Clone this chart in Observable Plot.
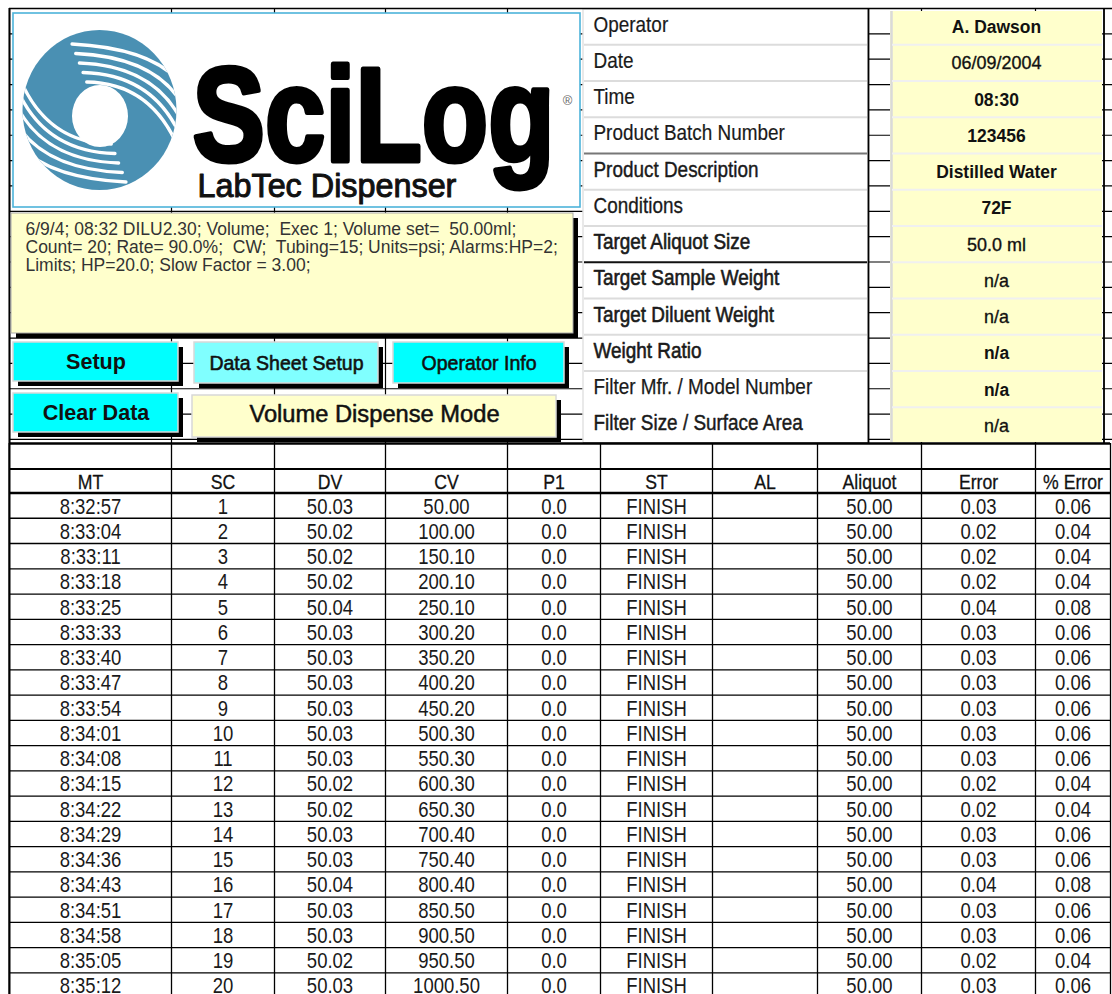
<!DOCTYPE html>
<html><head><meta charset="utf-8">
<script src="https://cdn.jsdelivr.net/npm/d3@7"></script>
<script src="https://cdn.jsdelivr.net/npm/@observablehq/plot@0.6"></script>
<style>
html,body{margin:0;padding:0;background:#fff;}
#chart svg{display:block;}
#chart text{white-space:pre;}
</style></head><body><div id="chart"></div>
<script>
// ---------- DATA ----------
const infoLabels = ["Operator","Date","Time","Product Batch Number","Product Description","Conditions","Target Aliquot Size","Target Sample Weight","Target Diluent Weight","Weight Ratio","Filter Mfr. / Model Number","Filter Size / Surface Area"];
const infoValues = ["A. Dawson","06/09/2004","08:30","123456","Distilled Water","72F","50.0 ml","n/a","n/a","n/a","n/a","n/a"];
const statusLines = ["6/9/4; 08:32 DILU2.30; Volume;  Exec 1; Volume set=  50.00ml;","Count= 20; Rate= 90.0%;  CW;  Tubing=15; Units=psi; Alarms:HP=2;","Limits; HP=20.0; Slow Factor = 3.00;"];
const buttonLabels = ["Setup","Data Sheet Setup","Operator Info","Clear Data","Volume Dispense Mode"];
const logoTitle = "SciLog";
const logoSub = "LabTec Dispenser";
const columns = ["MT","SC","DV","CV","P1","ST","AL","Aliquot","Error","% Error"];
const MT = ["8:32:57","8:33:04","8:33:11","8:33:18","8:33:25","8:33:33","8:33:40","8:33:47","8:33:54","8:34:01","8:34:08","8:34:15","8:34:22","8:34:29","8:34:36","8:34:43","8:34:51","8:34:58","8:35:05","8:35:12"];
const SC = ["1","2","3","4","5","6","7","8","9","10","11","12","13","14","15","16","17","18","19","20"];
const DV = ["50.03","50.02","50.02","50.02","50.04","50.03","50.03","50.03","50.03","50.03","50.03","50.02","50.02","50.03","50.03","50.04","50.03","50.03","50.02","50.03"];
const CV = ["50.00","100.00","150.10","200.10","250.10","300.20","350.20","400.20","450.20","500.30","550.30","600.30","650.30","700.40","750.40","800.40","850.50","900.50","950.50","1000.50"];
const P1 = ["0.0","0.0","0.0","0.0","0.0","0.0","0.0","0.0","0.0","0.0","0.0","0.0","0.0","0.0","0.0","0.0","0.0","0.0","0.0","0.0"];
const ST = ["FINISH","FINISH","FINISH","FINISH","FINISH","FINISH","FINISH","FINISH","FINISH","FINISH","FINISH","FINISH","FINISH","FINISH","FINISH","FINISH","FINISH","FINISH","FINISH","FINISH"];
const AL = [];
const Aliquot = ["50.00","50.00","50.00","50.00","50.00","50.00","50.00","50.00","50.00","50.00","50.00","50.00","50.00","50.00","50.00","50.00","50.00","50.00","50.00","50.00"];
const ErrorVals = ["0.03","0.02","0.02","0.02","0.04","0.03","0.03","0.03","0.03","0.03","0.03","0.02","0.02","0.03","0.03","0.04","0.03","0.03","0.02","0.03"];
const PctError = ["0.06","0.04","0.04","0.04","0.08","0.06","0.06","0.06","0.06","0.06","0.06","0.04","0.04","0.06","0.06","0.08","0.06","0.06","0.04","0.06"];

// ---------- LAYOUT / STYLE ----------
const W = 1112, H = 994;
const colEdges = [9, 171, 274, 385, 507, 600, 712, 817, 921, 1035, 1110];
const topColEdges = [9, 171, 274, 385, 507, 600, 712, 817, 921, 1035, 1103.5];
const rowH = 25.26, headTop = 468.5, dataTop = 492.5, tableTop = 443;
const gridTop = 8, gridPitch = 25.35, gridCount = 17;
const infoTop = 8, infoH = 36.25;
const labelStroke = [0.2,0.2,0.2,0.2,0.4,0.3,0.6,0.6,0.6,0.6,0.25,0.45];
const valueBold = [true,false,true,true,true,true,false,false,false,true,true,false];
const btnBoxes = [[13,178,342,381],[194,378,342,383],[393,564,342,383],[13,178,393,432],[192,556,395,437]];
const btnFill = ["#00ffff","#80ffff","#00ffff","#00ffff","#ffffcc"];
const btnGroup = ["btnb","btn","btn","btnb","vdm"];
const btnStroke = [0,0.6,0.6,0,0.5];
const btnSize = [22,21,21,22,23];
const FONT = "Liberation Sans, Arial, Helvetica, sans-serif";

// derived tables
const gridRows = d3.range(0, gridCount + 1).map(k => gridTop + k * gridPitch);
const tableCols = [MT, SC, DV, CV, P1, ST, AL, Aliquot, ErrorVals, PctError];
const colCenter = j => (colEdges[j] + colEdges[j + 1]) / 2;
const cells = [];
tableCols.forEach((col, j) => col.forEach((v, i) => cells.push({j, i, v})));
const rowLines = d3.range(1, MT.length + 1).map(i => dataTop + i * rowH);
const infoRows = infoLabels.map((label, i) => ({i, label, value: infoValues[i]}));
const btns = buttonLabels.map((label, i) => ({i, label, b: btnBoxes[i]}));
const statusRows = statusLines.map((t, i) => ({i, t}));

// SciLog swirl logo, drawn as a function mark
function logo() {
  const g = d3.create("svg:g");
  const cx = 99.5, cy = 110, rx = 77, ry = 80, blue = "#4a90b3";
  const O = [99, 113];
  const d = [0.877, 0.480], n = [0.480, -0.877];
  const pt = (a, b) => [O[0] + d[0]*a + n[0]*b, O[1] + d[1]*a + n[1]*b];
  const poly = pts => pts.map(p => p.join(",")).join(" ");
  const defs = g.append("defs");
  defs.append("clipPath").attr("id", "lgE").append("ellipse").attr("cx", cx).attr("cy", cy).attr("rx", rx).attr("ry", ry);
  defs.append("clipPath").attr("id", "lgU").append("polygon").attr("points", poly([pt(250,1.5), pt(250,250), pt(-250,250), pt(-250,1.5)]));
  defs.append("clipPath").attr("id", "lgL").append("polygon").attr("points", poly([pt(250,-1.5), pt(250,-250), pt(-250,-250), pt(-250,-1.5)]));
  g.append("ellipse").attr("cx", cx).attr("cy", cy).attr("rx", rx).attr("ry", ry).attr("fill", blue);
  const inner = [[86.7, 82], [143.3, 100], [180, 152]];
  const outer = [[72, 44], [136.7, 55], [178, 80]];
  const lerp = (a, b, t) => [a[0] + (b[0] - a[0]) * t, a[1] + (b[1] - a[1]) * t];
  const stripe = (S, M, E) => {
    const C = [2*M[0] - (S[0] + E[0]) / 2, 2*M[1] - (S[1] + E[1]) / 2];
    return `M${S}Q${C} ${E}`;
  };
  const refl = p => [2*O[0] - p[0], 2*O[1] - p[1]];
  const gu = g.append("g").attr("clip-path", "url(#lgE)").append("g").attr("clip-path", "url(#lgU)");
  const gl = g.append("g").attr("clip-path", "url(#lgE)").append("g").attr("clip-path", "url(#lgL)");
  for (let k = 0; k < 5; k++) {
    const t = k / 4;
    const P = inner.map((p, m) => lerp(p, outer[m], t));
    gu.append("path").attr("d", stripe(...P)).attr("fill", "none").attr("stroke", "#fff").attr("stroke-width", 3.3).attr("stroke-linecap", "round");
    gl.append("path").attr("d", stripe(...P.map(refl))).attr("fill", "none").attr("stroke", "#fff").attr("stroke-width", 3.3).attr("stroke-linecap", "round");
  }
  g.append("ellipse").attr("cx", 100).attr("cy", 116).attr("rx", 28).attr("ry", 31).attr("fill", "#fff");
  return g.node();
}

const boldVal = infoRows.filter(d => valueBold[d.i]);
const normVal = infoRows.filter(d => !valueBold[d.i]);

const chart = Plot.plot({
  width: W, height: H, margin: 0,
  x: {type: "identity", axis: null},
  y: {type: "identity", axis: null},
  style: {fontFamily: FONT, background: "#fff"},
  marks: [
    // spreadsheet grid behind everything
    Plot.ruleY(gridRows, {y: d => d, x1: 9, x2: W, stroke: "#000", strokeWidth: 1.2}),
    Plot.ruleX(topColEdges, {x: d => d, y1: gridTop, y2: tableTop, stroke: "#000", strokeWidth: 1.2}),
    Plot.ruleX([9], {x: d => d, y1: gridTop, y2: H, stroke: "#000", strokeWidth: 2}),
    // logo box
    Plot.rect([0], {x1: 13, x2: 580, y1: 13, y2: 207, fill: "#fff", stroke: "#4db3da", strokeWidth: 1.6}),
    logo,
    Plot.text([logoTitle], {x: 192, y: 160, text: d => d, textAnchor: "start", lineAnchor: "bottom", fontSize: 134, fontWeight: "bold", fill: "#000", stroke: "#000", strokeWidth: 5, ariaDescription: "scilog"}),
    Plot.text(["®"], {x: 567, y: 100, text: d => d, fontSize: 13, fill: "#666"}),
    Plot.text([logoSub], {x: 197, y: 196, text: d => d, textAnchor: "start", lineAnchor: "bottom", fontSize: 33, fill: "#111", stroke: "#111", strokeWidth: 1, ariaDescription: "labtec"}),
    // status box
    Plot.rect([0], {x1: 16, x2: 578, y1: 218, y2: 338, fill: "#000"}),
    Plot.rect([0], {x1: 11, x2: 573, y1: 213, y2: 333, fill: "#ffffcc", stroke: "#aaa", strokeWidth: 1}),
    Plot.text(statusRows, {x: 25, y: d => 234 + d.i * 18.3, text: "t", textAnchor: "start", lineAnchor: "bottom", fontSize: 17.5, fill: "#333", ariaDescription: "status"}),
    // buttons
    Plot.rect(btns, {x1: d => d.b[0] + 5, x2: d => d.b[1] + 5, y1: d => d.b[2] + 5, y2: d => d.b[3] + 5, fill: "#000"}),
    Plot.rect(btns, {x1: d => d.b[0], x2: d => d.b[1], y1: d => d.b[2], y2: d => d.b[3], fill: d => btnFill[d.i], stroke: "#d8d8d8", strokeWidth: 1.5}),
    Plot.text(btns.filter(d => btnGroup[d.i] === "btnb"), {x: d => (d.b[0] + d.b[1]) / 2, y: d => (d.b[2] + d.b[3]) / 2, text: "label", fontSize: d => btnSize[d.i], fontWeight: "bold", fill: "#111", ariaDescription: "btnb"}),
    Plot.text(btns.filter(d => btnGroup[d.i] === "btn"), {x: d => (d.b[0] + d.b[1]) / 2, y: d => (d.b[2] + d.b[3]) / 2, text: "label", fontSize: d => btnSize[d.i], fill: "#111", stroke: "#111", strokeWidth: d => btnStroke[d.i], ariaDescription: "btn"}),
    Plot.text(btns.filter(d => btnGroup[d.i] === "vdm"), {x: d => (d.b[0] + d.b[1]) / 2, y: d => (d.b[2] + d.b[3]) / 2 - 2, text: "label", fontSize: d => btnSize[d.i], fill: "#111", stroke: "#111", strokeWidth: d => btnStroke[d.i], ariaDescription: "vdm"}),
    // info labels panel
    Plot.rect([0], {x1: 583, x2: 868, y1: 9, y2: 443, fill: "#fff", stroke: "#e2e2e2", strokeWidth: 1.5}),
    Plot.ruleY(infoRows.slice(1), {y: d => infoTop + d.i * infoH, x1: 584, x2: 867,
      stroke: d => d.i === 4 ? "#777" : d.i === 7 ? "#111" : d.i === 11 ? "#fff" : "#dcdcdc", strokeWidth: 2}),
    Plot.ruleY([443], {y: d => d, x1: 583, x2: 868, stroke: "#9a9a9a", strokeWidth: 3}),
    Plot.text(infoRows, {x: 593, y: d => infoTop + d.i * infoH + 23, text: "label", textAnchor: "start", lineAnchor: "bottom", fontSize: 21.5, fill: "#1a1a1a", stroke: "#1a1a1a", strokeWidth: d => labelStroke[d.i], ariaDescription: "lbl"}),
    Plot.ruleX([868], {x: d => d, y1: 8, y2: 443, stroke: "#000", strokeWidth: 1.8}),
    // info values panel
    Plot.rect([0], {x1: 890, x2: 1102, y1: 11, y2: 442, fill: "#ffffcc"}),
    Plot.ruleX([891], {x: d => d, y1: 11, y2: 442, stroke: "#dadada", strokeWidth: 2.5}),
    Plot.ruleY(infoRows.slice(1), {y: d => infoTop + d.i * infoH, x1: 892, x2: 1102, stroke: "#f0f0f0", strokeWidth: 2}),
    Plot.text(boldVal, {x: 996, y: d => infoTop + d.i * infoH + 24.5, text: "value", lineAnchor: "bottom", fontSize: 18, fontWeight: "bold", fill: "#111", ariaDescription: "val"}),
    Plot.text(normVal, {x: 996, y: d => infoTop + d.i * infoH + 24.5, text: "value", lineAnchor: "bottom", fontSize: 18.5, fill: "#111", stroke: "#111", strokeWidth: 0.35, ariaDescription: "val"}),
    Plot.ruleX([1103.5], {x: d => d, y1: 8, y2: 443, stroke: "#000", strokeWidth: 1.6}),
    Plot.ruleY([8], {y: d => d, x1: 9, x2: W, stroke: "#000", strokeWidth: 1.6}),
    // data table
    Plot.rect([0], {x1: 10, x2: 1110, y1: tableTop, y2: H, fill: "#fff"}),
    Plot.ruleX(colEdges, {x: d => d, y1: tableTop, y2: H, stroke: "#000", strokeWidth: (d, i) => (i === 0 ? 2 : 1.3)}),
    Plot.ruleY([tableTop], {y: d => d, x1: 9, x2: 1110, stroke: "#000", strokeWidth: 2.5}),
    Plot.ruleY([headTop], {y: d => d, x1: 9, x2: 1110, stroke: "#000", strokeWidth: 2.2}),
    Plot.ruleY([dataTop], {y: d => d, x1: 9, x2: 1110, stroke: "#000", strokeWidth: 2.6}),
    Plot.ruleY(rowLines, {y: d => d, x1: 9, x2: 1110, stroke: "#000", strokeWidth: 1.3}),
    Plot.text(columns, {x: (d, j) => colCenter(j), y: headTop + 20, text: d => d, lineAnchor: "bottom", fontSize: 21, fill: "#111", stroke: "#111", strokeWidth: 0.3, ariaDescription: "tblh"}),
    Plot.text(cells, {x: d => colCenter(d.j), y: d => dataTop + d.i * rowH + 20.5, text: "v", lineAnchor: "bottom", fontSize: 21.5, fill: "#1a1a1a", ariaDescription: "tbl"})
  ]
});

document.getElementById("chart").append(chart);

// horizontal condensation of the glyphs to match the squeezed reference
const squeeze = {tbl: 0.86, tblh: 0.84, lbl: 0.88, val: 0.97, btn: 0.93, btnb: 0.98, vdm: 1.03, status: 1.0, labtec: 0.98};
const done = new Set();
for (const [name, k] of Object.entries(squeeze)) {
  chart.querySelectorAll(`[aria-description="${name}"]`).forEach(el => {
    const texts = el.tagName.toLowerCase() === "text" ? [el] : Array.from(el.querySelectorAll("text"));
    texts.forEach(t => {
      if (done.has(t)) return; done.add(t);
      const L = t.getComputedTextLength();
      if (L > 0) { t.setAttribute("textLength", (L * k).toFixed(1)); t.setAttribute("lengthAdjust", "spacingAndGlyphs"); }
    });
  });
}
chart.querySelectorAll(`[aria-description="scilog"] text`).forEach(t => {
  t.setAttribute("textLength", 362); t.setAttribute("lengthAdjust", "spacingAndGlyphs");
});
</script>
</body></html>
